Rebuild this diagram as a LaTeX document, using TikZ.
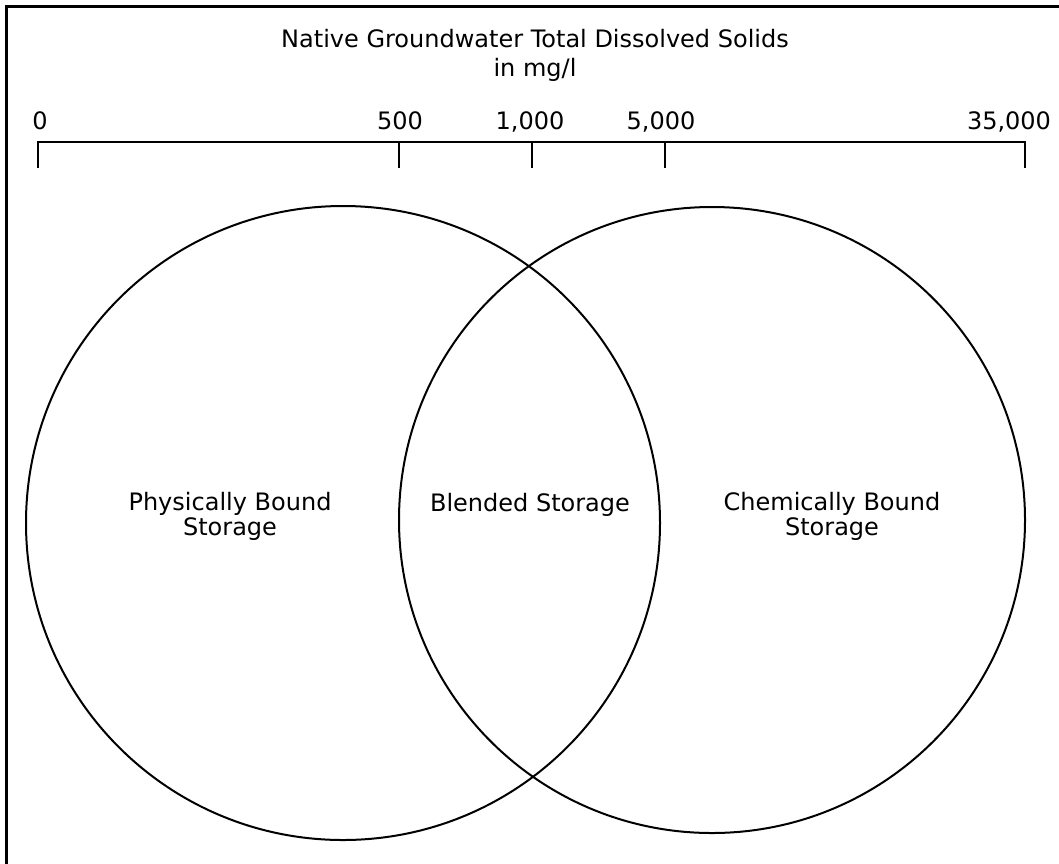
\documentclass[tikz,border=0pt]{standalone}
\usepackage{fontspec}
\setmainfont{DejaVu Sans}
\begin{document}
\begin{tikzpicture}[
    x=1pt,y=-1pt,
    lbl/.style={font=\fontsize{24}{25}\selectfont,align=center,inner sep=0pt},
    ttl/.style={font=\fontsize{24}{29}\selectfont,align=center,inner sep=0pt},
    ticklbl/.style={font=\fontsize{24}{28}\selectfont,anchor=base,inner sep=0pt},
    axis/.style={line width=2pt},
    venn/.style={draw,circle,line width=2pt,inner sep=0pt}
  ]
    \useasboundingbox (0,0) rectangle (1059,863);
    % frame, only top and left edge show
    \draw[line width=3pt] (6.5,880) -- (6.5,6.5) -- (1080,6.5);
    \node[ttl] (title) at (535,55) {Native Groundwater Total Dissolved Solids\\in mg/l};
    % scale
    \coordinate (s0) at (38,142);
    \coordinate (s35000) at (1025,142);
    \draw[axis] ([yshift=-26pt]s0) -- (s0) -- (s35000) -- ([yshift=-26pt]s35000);
    \foreach \x in {399,532,665}
      \draw[axis] (\x,142) -- (\x,168);
    \node[ticklbl] (l0) at (40,129) {0};
    \node[ticklbl] (l500) at (400,129) {500};
    \node[ticklbl] (l1000) at (530,129) {1,000};
    \node[ticklbl] (l5000) at (661,129) {5,000};
    \node[ticklbl] (l35000) at (1009,129) {35,000};
    % storage circles
    \node[venn,minimum size=634pt] (phys) at (343,523) {};
    \node[venn,minimum size=626pt] (chem) at (712,520) {};
    \node[lbl] (physlbl) at (230,516) {Physically Bound\\Storage};
    \node[lbl,anchor=base] (blend) at (530,511) {Blended Storage};
    \node[lbl] (chemlbl) at (832,516) {Chemically Bound\\Storage};
\end{tikzpicture}
\end{document}
